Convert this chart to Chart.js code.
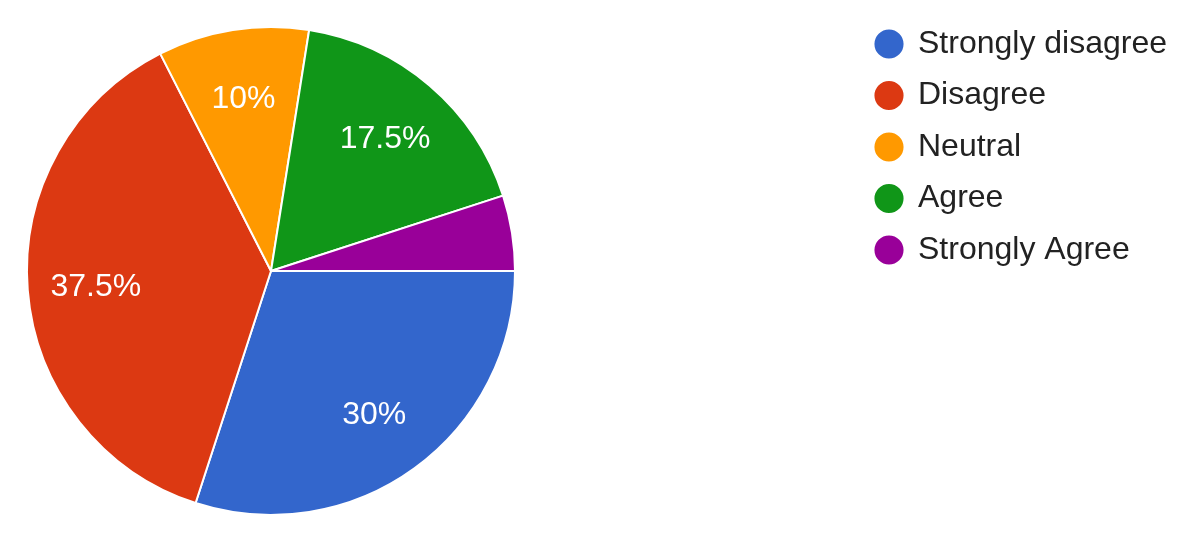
<!DOCTYPE html>
<html>
<head>
<meta charset="utf-8">
<script src="https://cdn.jsdelivr.net/npm/chart.js@4.4.0/dist/chart.umd.min.js"></script>
<style>
  html, body { margin: 0; padding: 0; background: #fff; }
  #wrap { width: 1200px; height: 542px; position: relative; }
</style>
</head>
<body>
<div id="wrap"><canvas id="pie-chart"></canvas></div>
<script>
// Survey answers (share of responses, %)
var answers = ['Strongly disagree', 'Disagree', 'Neutral', 'Agree', 'Strongly Agree'];
var shares = [30, 37.5, 10, 17.5, 5];
var sliceColors = ['#3366cc', '#dc3912', '#ff9900', '#109618', '#990099'];

Chart.defaults.font.family = '"Liberation Sans", Arial, sans-serif';

// percentage text inside each slice (small slices get none)
var sliceLabels = {
    id: 'sliceLabels',
    afterDatasetsDraw: function(chart) {
        var ctx = chart.ctx;
        var data = chart.data.datasets[0].data;
        var total = data.reduce(function(a, b) { return a + b; }, 0);
        ctx.save();
        ctx.font = '32px "Liberation Sans", Arial, sans-serif';
        ctx.fillStyle = '#fff';
        ctx.textAlign = 'center';
        ctx.textBaseline = 'middle';
        chart.getDatasetMeta(0).data.forEach(function(arc, i) {
            var pct = data[i] / total * 100;
            if (pct < 6) return;
            var p = arc.getProps(['x', 'y', 'startAngle', 'endAngle', 'outerRadius'], true);
            var mid = (p.startAngle + p.endAngle) / 2;
            var r = p.outerRadius * 0.72;
            ctx.fillText(+pct.toFixed(1) + '%', p.x + Math.cos(mid) * r, p.y + Math.sin(mid) * r + 2);
        });
        ctx.restore();
    }
};

// legend takes the whole right side, items sit near the top
var legendBox = {
    id: 'legendBox',
    beforeInit: function(chart) {
        var fit = chart.legend.fit;
        chart.legend.fit = function() {
            fit.call(this);
            this.width = 684;
        };
    },
    afterLayout: function(chart) {
        chart.legend.left = 856.5;
        chart.legend.top = 8.5;
    }
};

var ctx = document.getElementById('pie-chart').getContext('2d');
var myChart = new Chart(ctx, {
    type: 'pie',
    data: {
        labels: answers,
        datasets: [{
            data: shares,
            backgroundColor: sliceColors,
            borderColor: '#fff',
            borderWidth: 2,
            hoverOffset: 0
        }]
    },
    options: {
        responsive: true,
        maintainAspectRatio: false,
        animation: false,
        rotation: 90,
        layout: {
            padding: { top: 25, bottom: 25, left: 26, right: 0 }
        },
        plugins: {
            tooltip: { enabled: false },
            legend: {
                position: 'right',
                align: 'start',
                labels: {
                    usePointStyle: true,
                    pointStyle: 'circle',
                    boxWidth: 26,
                    boxHeight: 22,
                    padding: 19.5,
                    color: '#222',
                    font: { size: 32 }
                }
            }
        }
    },
    plugins: [sliceLabels, legendBox]
});
</script>
</body>
</html>
